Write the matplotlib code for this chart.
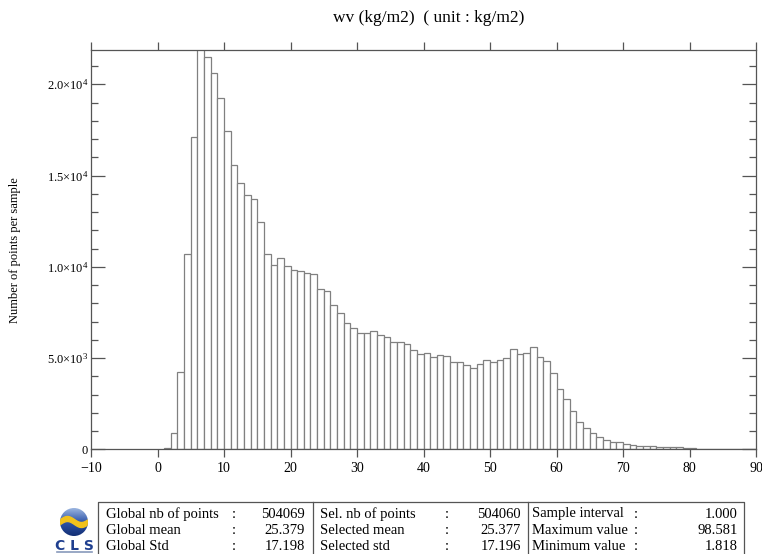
import numpy as np
import matplotlib
matplotlib.use('Agg')
import matplotlib.pyplot as plt
from matplotlib.patches import Circle
from matplotlib.ticker import MultipleLocator, FixedLocator

plt.rcParams['font.family'] = ['Liberation Serif', 'DejaVu Serif']
plt.rcParams['mathtext.fontset'] = 'custom'
plt.rcParams['mathtext.rm'] = 'Liberation Serif'

#============================================================================
# data
#============================================================================

bin_left = list(range(1, 90))
counts = [60, 910, 4220, 10690, 17100, 22300, 21500, 20600, 19230, 17440,
          15600, 14570, 13930, 13700, 12470, 10690, 10080, 10500, 10060, 9810,
          9750, 9660, 9590, 8800, 8660, 7890, 7450, 6900, 6660, 6360,
          6360, 6500, 6250, 6140, 5900, 5900, 5750, 5440, 5200, 5260,
          5040, 5180, 5100, 4770, 4770, 4600, 4440, 4660, 4880, 4770,
          4890, 4990, 5480, 5220, 5260, 5620, 5040, 4820, 4180, 3290,
          2740, 2080, 1510, 1150, 877, 660, 490, 420, 420, 290,
          250, 200, 160, 160, 140, 140, 100, 100, 80, 60,
          40, 40, 30, 30, 30, 10, 40, 5, 5]

xticks = [-10, 0, 10, 20, 30, 40, 50, 60, 70, 80, 90]
yticks = [0, 5000, 10000, 15000, 20000]
ytick_labels = ['0', r'$\mathregular{5.0{\times}10^3}$', r'$\mathregular{1.0{\times}10^4}$',
                r'$\mathregular{1.5{\times}10^4}$', r'$\mathregular{2.0{\times}10^4}$']

title = 'wv (kg/m2)  ( unit : kg/m2)'
ylabel = 'Number of points per sample'

stat_labels = [['Global nb of points', 'Global mean', 'Global Std'],
               ['Sel. nb of points', 'Selected mean', 'Selected std'],
               ['Sample interval', 'Maximum value', 'Minimum value']]
stat_values = [['504069', '25.379', '17.198'],
               ['504060', '25.377', '17.196'],
               ['1.000', '98.581', '1.818']]

#============================================================================
# figure
#============================================================================

W, H = 762, 554
fig = plt.figure(figsize=(W / 100, H / 100), dpi=100)
ax = fig.add_axes([91 / W, 1 - 449.3 / H, (756 - 91) / W, (449.3 - 50.3) / H])

ax.bar(bin_left, counts, width=1.0, align='edge', facecolor='white',
       edgecolor='#808080', linewidth=0.9)

ax.set_xlim(-10, 90)
ax.set_ylim(0, 21860)
for s in ax.spines.values():
    s.set_color('#555555')
    s.set_linewidth(0.9)

ax.xaxis.set_major_locator(FixedLocator(xticks))
ax.set_xticklabels(['\u221210' if t < 0 else str(t) for t in xticks])
ax.yaxis.set_major_locator(FixedLocator(yticks))
ax.set_yticklabels(ytick_labels)
ax.yaxis.set_minor_locator(MultipleLocator(1000))

ax.tick_params(axis='x', which='major', direction='out', top=True, bottom=True,
               length=6, width=0.9, color='#555555', labelsize=10, pad=3)
ax.tick_params(axis='y', which='major', direction='in', left=True, right=True,
               length=10, width=0.9, color='#555555', labelsize=9, pad=2)
ax.tick_params(axis='y', which='minor', direction='in', left=True, right=True,
               length=5, width=0.9, color='#555555')

fig.text(429 / W, 1 - 18 / H, title, ha='center', va='center', fontsize=12.5)
fig.text(15 / W, 1 - 250 / H, ylabel, ha='center', va='center',
         rotation=90, fontsize=9)

#============================================================================
# statistics table + logo (overlay in pixel coordinates)
#============================================================================

ov = fig.add_axes([0, 0, 1, 1])
ov.set_xlim(0, W)
ov.set_ylim(H, 0)
ov.axis('off')

box_l, box_r, box_t, box_b = 98, 744, 502, 556
ov.plot([box_l, box_r, box_r, box_l, box_l], [box_b, box_b, box_t, box_t, box_b],
        color='#555555', lw=0.9, clip_on=False)
for xd in [313, 528]:
    ov.plot([xd, xd], [box_t, box_b], color='#555555', lw=0.9)

label_x = [106, 320, 532]
colon_x = [234, 447, 636]
value_x = [305, 521, 738]
row_y = [514, 530, 546]
for c in range(3):
    for r in range(3):
        ov.text(label_x[c], row_y[r], stat_labels[c][r], ha='left', va='center', fontsize=10.5)
        ov.text(colon_x[c], row_y[r], ':', ha='center', va='center', fontsize=10.5)
        ov.text(value_x[c], row_y[r], stat_values[c][r], ha='right', va='center', fontsize=10.5)

# CLS logo
cx, cy, rad = 74, 522, 14
globe = Circle((cx, cy), rad, transform=ov.transData, facecolor='none', edgecolor='none')
ov.add_patch(globe)
grad = np.linspace(0, 1, 64).reshape(-1, 1)
im = ov.imshow(grad, extent=[cx - rad, cx + rad, cy + rad, cy - rad],
               cmap=matplotlib.colors.LinearSegmentedColormap.from_list(
                   'g', ['#9bb5e0', '#2f55a8', '#132f75']),
               aspect='auto', zorder=2)
im.set_clip_path(globe)
t = np.linspace(cx - rad - 2, cx + rad + 2, 50)
upper = cy - 3 + 3.0 * np.sin((t - cx) / rad * np.pi)
lower = upper + 5
band = ov.fill_between(t, upper, lower, color='#f2c21b', zorder=3)
band.set_clip_path(globe)
ov.set_xlim(0, W)
ov.set_ylim(H, 0)
ov.text(cx, 546, 'C L S', ha='center', va='center', fontsize=10, color='#1f3f8f',
        family='DejaVu Sans', fontweight='bold')
ov.plot([57, 92], [552, 552], color='#8899bb', lw=1.2)

fig.savefig('out.png', dpi=100)
